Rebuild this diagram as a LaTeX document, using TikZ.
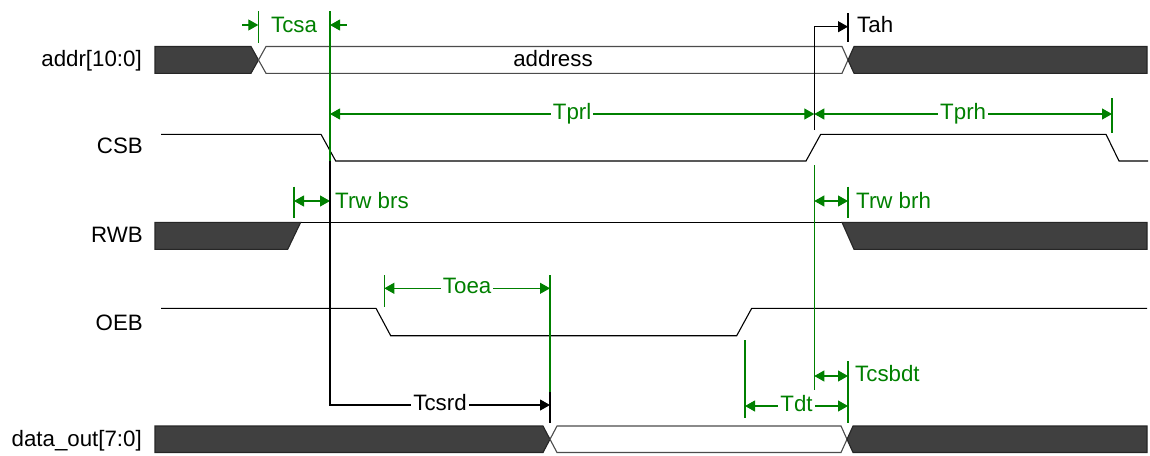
\documentclass[tikz,border=0pt]{standalone}
\usepackage{fontspec}
\setmainfont{Liberation Sans}
\usetikzlibrary{arrows.meta}

\definecolor{dimgreen}{RGB}{0,128,0}
\definecolor{busfill}{RGB}{64,64,64}

\tikzset{
  dimtip/.tip={Triangle[length=10pt,width=11pt]},
  timing/.style={
    x=1pt, y=-1pt,
    font=\fontsize{22.3}{26}\selectfont,
    wave/.style={draw=black, line width=1.1pt},
    busdark/.style={draw=black!85, line width=1.1pt, fill=busfill},
    buslight/.style={draw=black!70, line width=1.1pt, fill=white},
    guide/.style={draw=dimgreen, line width=1.1pt},
    dim/.style={guide, arrows={dimtip-dimtip}},
    signame/.style={anchor=base east, inner sep=0pt},
    dimtext/.style={text=dimgreen, anchor=base, fill=white, inner sep=2pt, yshift=-5.3pt},
    sidetext/.style={text=dimgreen, anchor=base west, inner sep=0pt}
  }
}

\begin{document}
\begin{tikzpicture}[timing]
  \useasboundingbox (0,0) rectangle (1150,455);

  % event times
  \coordinate (tAddr) at (258.3,0);
  \coordinate (tRw)   at (294,0);
  \coordinate (tCsF)  at (330,0);
  \coordinate (tOeF)  at (384.3,0);
  \coordinate (tData) at (550,0);
  \coordinate (tOeR)  at (745,0);
  \coordinate (tCsR)  at (814.3,0);
  \coordinate (tHold) at (848,0);
  \coordinate (tCsF2) at (1112,0);

  % signal names
  \node[signame] (addr) at (142,66.7) {addr[10:0]};
  \node[signame] (csb)  at (143,153.5) {CSB};
  \node[signame] (rwb)  at (143,242) {RWB};
  \node[signame] (oeb)  at (143,330) {OEB};
  \node[signame] (dout) at (142,446) {data\_out[7:0]};

  % addr[10:0]
  \draw[busdark] (155,46.5) -- (251,46.5) -- (258.5,60) -- (251,73.3) -- (155,73.3) -- cycle;
  \draw[buslight] (266,46.5) -- (842,46.5) -- (848,60) -- (842,73.3) -- (266,73.3) -- (258.5,60) -- cycle;
  \draw[busdark] (854,46.5) -- (1147,46.5) -- (1147,73.3) -- (854,73.3) -- (848,60) -- cycle;
  \node[anchor=base, inner sep=0pt] (address) at (553,66.7) {address};

  % CSB
  \draw[wave] (161,134.3) -- (321,134.3) -- (335.7,161) -- (806,161) -- (820.7,134.3)
    -- (1106,134.3) -- (1119,161) -- (1148,161);

  % RWB
  \draw[busdark] (155,222.3) -- (300.7,222.3) -- (287.7,249.3) -- (155,249.3) -- cycle;
  \draw[wave] (300.7,222.3) -- (842,222.3);
  \draw[busdark] (842,222.3) -- (1147,222.3) -- (1147,249.3) -- (854,249.3) -- cycle;

  % OEB
  \draw[wave] (161,308.3) -- (376,308.3) -- (390.7,335.7) -- (736.7,335.7) -- (751.7,308.3) -- (1147,308.3);

  % data_out[7:0]
  \draw[busdark] (155,426) -- (543,426) -- (550,439.3) -- (543,452.5) -- (155,452.5) -- cycle;
  \draw[buslight] (557,426) -- (841,426) -- (847,439.3) -- (841,452.5) -- (557,452.5) -- (550,439.3) -- cycle;
  \draw[busdark] (853,426) -- (1147,426) -- (1147,452.5) -- (853,452.5) -- (847,439.3) -- cycle;

  % guide lines
  \draw[guide] (tAddr |- 0,11) -- (tAddr |- 0,43);
  \draw[guide] (tCsF |- 0,11) -- (tCsF |- 0,161);
  \draw[guide] (tRw |- 0,186.7) -- (tRw |- 0,218);
  \draw[guide] (tOeF |- 0,275) -- (tOeF |- 0,306.7);
  \draw[guide] (tData |- 0,275) -- (tData |- 0,392);
  \draw[wave] (tData |- 0,392) -- (tData |- 0,423);
  \draw[guide] (tOeR |- 0,340) -- (tOeR |- 0,418);
  \draw[guide] (tCsR |- 0,165) -- (tCsR |- 0,390);
  \draw[wave] (tHold |- 0,13) -- (tHold |- 0,41.7);
  \draw[guide] (tHold |- 0,186.7) -- (tHold |- 0,218);
  \draw[guide] (tHold |- 0,361) -- (tHold |- 0,423);
  \draw[guide] (tCsF2 |- 0,98) -- (tCsF2 |- 0,133);

  % Tcsa
  \draw[guide, -dimtip] (242,25) -- (tAddr |- 0,25);
  \draw[guide, -dimtip] (346.7,25) -- (tCsF |- 0,25);
  \node[text=dimgreen, anchor=base, inner sep=0pt] (tcsa) at (294,32) {Tcsa};

  % Tah
  \draw[wave, -dimtip] (tCsR |- 0,130) -- (tCsR |- 0,26.7) -- (tHold |- 0,26.7);
  \node[anchor=base west, inner sep=0pt] (tah) at (857,32) {Tah};

  % Tprl, Tprh
  \draw[dim] (tCsF |- 0,114) -- node[dimtext] (tprl) {Tprl} (tCsR |- 0,114);
  \draw[dim] (tCsR |- 0,114) -- node[dimtext] (tprh) {Tprh} (tCsF2 |- 0,114);

  % Trw brs, Trw brh
  \draw[dim] (tRw |- 0,201) -- (tCsF |- 0,201);
  \node[sidetext] (trwbrs) at (335,208) {Trw brs};
  \draw[dim] (tCsR |- 0,201) -- (tHold |- 0,201);
  \node[sidetext] (trwbrh) at (856,208) {Trw brh};

  % Toea
  \draw[dim] (tOeF |- 0,288.3) -- node[dimtext] (toea) {Toea} (tData |- 0,288.3);

  % Tcsbdt, Tdt
  \draw[dim] (tCsR |- 0,376) -- (tHold |- 0,376);
  \node[sidetext] (tcsbdt) at (855,381.7) {Tcsbdt};
  \draw[dim] (tOeR |- 0,406) -- node[dimtext] (tdt) {Tdt} (tHold |- 0,406);

  % Tcsrd
  \draw[wave, -dimtip] (tCsF |- 0,161) -- (tCsF |- 0,405) -- node[dimtext, text=black] (tcsrd) {Tcsrd} (tData |- 0,405);
\end{tikzpicture}
\end{document}
